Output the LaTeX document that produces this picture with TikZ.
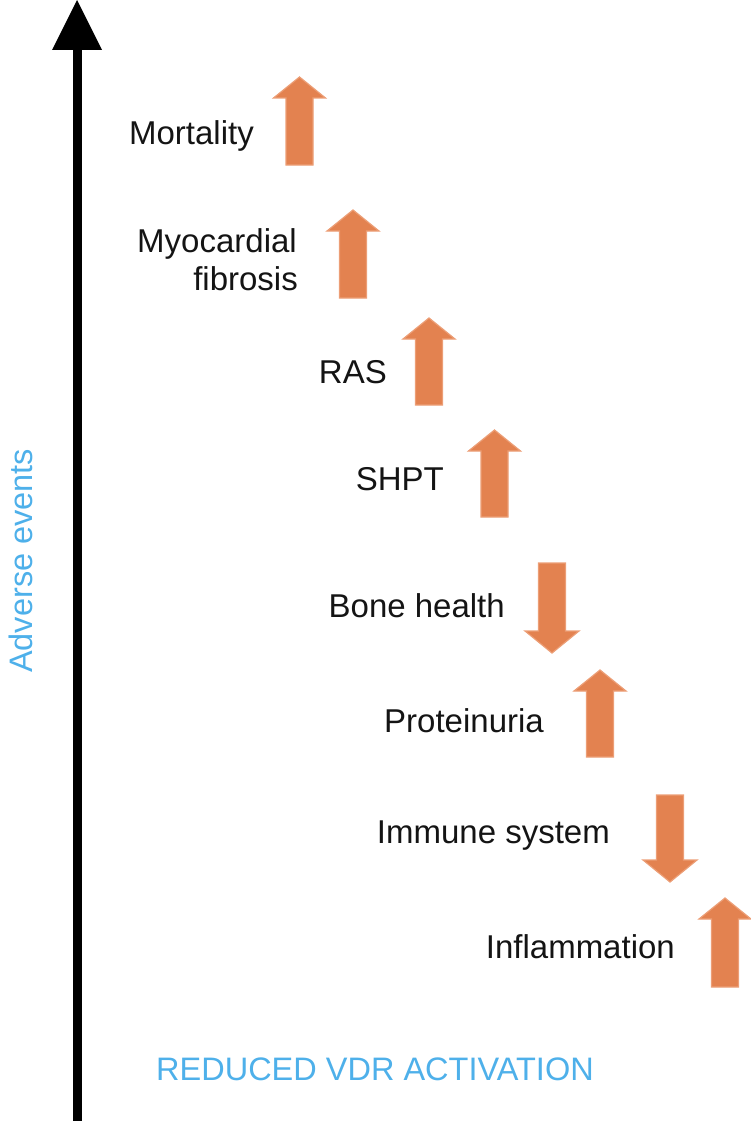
\documentclass[tikz,border=0pt]{standalone}
\usepackage{fontspec}
\setmainfont{Liberation Sans}
\definecolor{arrfill}{RGB}{227,130,80}
\definecolor{arredge}{RGB}{236,158,118}
\definecolor{vdrblue}{RGB}{78,176,234}
\definecolor{labtext}{RGB}{20,20,20}
\newcommand\vdrUp[3]{%
  \filldraw[arrowshape] (#1-13.5,#3) -- (#1-13.5,#2+21) -- (#1-26,#2+21) -- (#1,#2)
    -- (#1+26,#2+21) -- (#1+13.5,#2+21) -- (#1+13.5,#3) -- cycle;}
\newcommand\vdrDown[3]{%
  \filldraw[arrowshape] (#1-13.5,#2) -- (#1-13.5,#3-22) -- (#1-27,#3-22) -- (#1,#3)
    -- (#1+27,#3-22) -- (#1+13.5,#3-22) -- (#1+13.5,#2) -- cycle;}
\begin{document}
\begin{tikzpicture}[x=1pt,y=-1pt,
  arrowshape/.style={fill=arrfill,draw=arredge,line width=1.2pt,line join=miter},
  lab/.style={inner sep=0pt,text=labtext,font=\fontsize{33}{39}\selectfont,anchor=base east},
  bluelab/.style={inner sep=0pt,text=vdrblue,font=\fontsize{32.5}{39}\selectfont}]
\useasboundingbox (0,0) rectangle (751,1121);
% axis
\coordinate (axbot) at (77,1121);
\coordinate (axtop) at (77,48);
\draw[line width=9pt] (axbot) -- (axtop);
\fill (77,0) -- (102,50) -- (52,50) -- cycle;
% vertical label
\node[bluelab,rotate=90,anchor=base west] (adv) at (32,673) {Adverse events};
% bottom label
\node[bluelab,anchor=base west] (vdr) at (156,1080) {REDUCED VDR ACTIVATION};
% labels
\node[lab] (mort) at (254,145) {Mortality};
\node[lab] (myo1) at (297,252) {Myocardial};
\node[lab] (myo2) at (298,290) {fibrosis};
\node[lab] (ras) at (387,383) {RAS};
\node[lab] (shpt) at (444,490) {SHPT};
\node[lab] (bone) at (505,617) {Bone health};
\node[lab] (prot) at (544,732) {Proteinuria};
\node[lab] (imm) at (610,843) {Immune system};
\node[lab] (infl) at (675,958) {Inflammation};
% arrows
\vdrUp{299.5}{77}{165}
\vdrUp{353}{210}{298}
\vdrUp{429}{318}{405}
\vdrUp{494.5}{430}{517}
\vdrDown{552}{563}{653}
\vdrUp{600}{670}{757}
\vdrDown{670}{795}{882}
\vdrUp{725}{898}{987}
\end{tikzpicture}
\end{document}
